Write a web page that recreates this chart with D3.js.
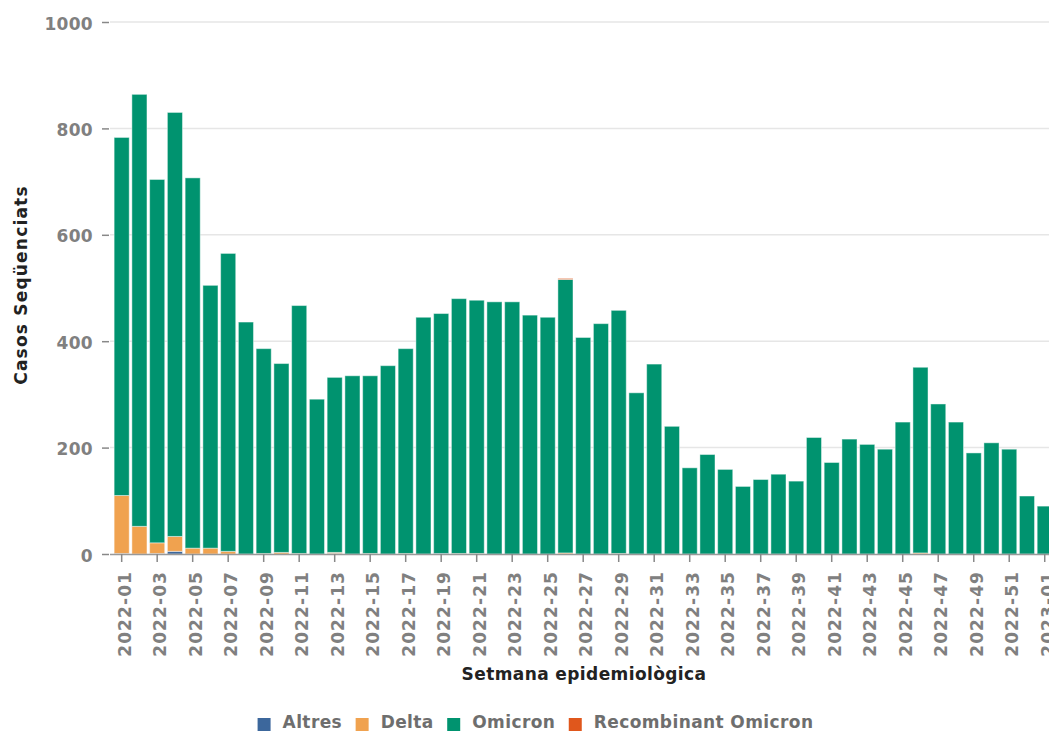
<!DOCTYPE html>
<html>
<head>
<meta charset="utf-8">
<script src="https://d3js.org/d3.v7.min.js"></script>
<style>
  body { margin: 0; overflow: hidden; background: #fff; }
</style>
</head>
<body>
<div id="chart"></div>
<script>
// setmanes 2022-01 .. 2022-52 i 2023-01
const weeks = d3.range(1, 53).map(w => `2022-${String(w).padStart(2, "0")}`).concat(["2023-01"]);

const altres = [1,0,1,5,0,0,0,0,0,0,0,0,1,0,0,0,0,0,1,0,0,0,0,0,0,0,0,0,0,0,0,0,0,0,0,0,0,0,0,0,0,0,0,0,0,0,0,0,0,0,0,0,0];
const delta = [109,52,20,28,11,11,5,0,1,3,1,0,2,0,1,0,1,0,0,1,1,0,0,0,0,2,0,0,1,0,0,0,0,0,0,0,0,0,0,0,0,0,0,0,0,2,0,0,0,0,0,0,0];
const omicron = [673,812,683,797,696,494,560,436,385,355,466,291,329,335,334,354,385,445,451,479,476,474,474,449,445,514,407,433,457,303,357,240,162,187,159,127,140,150,137,219,172,216,206,197,248,349,282,248,190,209,197,109,90];
const recombinant = [0,0,0,0,0,0,0,0,0,0,0,0,0,0,0,0,0,0,0,0,0,0,0,0,0,2,0,0,0,0,0,0,0,0,0,0,0,0,0,0,0,0,0,0,0,0,0,0,0,0,0,0,0];

const variants = ["Altres", "Delta", "Omicron", "Recombinant Omicron"];
const colors = ["#3c679c", "#f0a24f", "#00936f", "#e0571c"];
const yTicks = [0, 200, 400, 600, 800, 1000];

const rows = weeks.map((w, i) => ({
  week: w,
  "Altres": altres[i],
  "Delta": delta[i],
  "Omicron": omicron[i],
  "Recombinant Omicron": recombinant[i]
}));

const width = 1049, height = 733;
const plotLeft = 112.8, plotRight = 1053.6, plotTop = 22, plotBottom = 554;
const font = "'DejaVu Sans', sans-serif";

const svg = d3.create("svg")
    .attr("width", width)
    .attr("height", height)
    .attr("font-family", font)
    .attr("font-weight", "bold");

const x = d3.scaleBand()
    .domain(weeks)
    .range([plotLeft, plotRight])
    .paddingInner(0.15)
    .paddingOuter(0.075);

const y = d3.scaleLinear()
    .domain([0, 1000])
    .range([plotBottom, plotTop]);

const color = d3.scaleOrdinal().domain(variants).range(colors);

// graella
svg.append("g")
  .selectAll("line")
  .data(yTicks.filter(d => d > 0))
  .join("line")
    .attr("x1", 110).attr("x2", width)
    .attr("y1", d => y(d)).attr("y2", d => y(d))
    .attr("stroke", "#e6e6e6")
    .attr("stroke-width", 1.5);

// eix y
const yAxis = svg.append("g")
    .attr("transform", `translate(109,0)`)
    .call(d3.axisLeft(y).tickValues(yTicks).tickFormat(d3.format("d")).tickSize(7).tickPadding(9));
yAxis.select(".domain").remove();
yAxis.selectAll(".tick line").attr("stroke", "#888").attr("stroke-width", 1.5);
yAxis.selectAll(".tick text")
    .attr("fill", "#808080")
    .attr("font-family", font)
    .attr("font-weight", "bold")
    .attr("font-size", 17)
    .attr("letter-spacing", 0.3)
    .attr("dy", "0.42em");

// barres apilades
const series = d3.stack().keys(variants)(rows);

svg.append("g")
  .selectAll("g")
  .data(series)
  .join("g")
    .attr("fill", d => color(d.key))
  .selectAll("rect")
  .data(d => d.filter(s => s[1] - s[0] > 0))
  .join("rect")
    .attr("x", d => x(d.data.week))
    .attr("width", x.bandwidth())
    .attr("y", d => y(d[1]))
    .attr("height", d => y(d[0]) - y(d[1]))
    .attr("stroke", "#fff")
    .attr("stroke-opacity", 0.45)
    .attr("stroke-width", 1);

// eix x
const xAxis = svg.append("g")
    .attr("transform", `translate(0,${plotBottom})`)
    .call(d3.axisBottom(x).tickValues(weeks.filter((d, i) => i % 2 === 0)).tickSize(8).tickSizeOuter(0));
xAxis.select(".domain")
    .attr("d", `M110,0.5H${width}`)
    .attr("stroke", "#999")
    .attr("stroke-width", 1.5);
xAxis.selectAll(".tick line").attr("stroke", "#888").attr("stroke-width", 1.5);
xAxis.selectAll(".tick text")
    .attr("fill", "#808080")
    .attr("font-family", font)
    .attr("font-weight", "bold")
    .attr("font-size", 17)
    .attr("letter-spacing", 1.1)
    .attr("text-anchor", "end")
    .attr("transform", "translate(0,17) rotate(-90)")
    .attr("x", 0)
    .attr("y", 0)
    .attr("dy", "0.52em");

// títols d'eix
svg.append("text")
    .attr("x", (462 + 706) / 2)
    .attr("y", 680)
    .attr("text-anchor", "middle")
    .attr("font-size", 17)
    .attr("letter-spacing", 0.4)
    .attr("fill", "#222")
    .text("Setmana epidemiològica");

svg.append("text")
    .attr("transform", "translate(27,285) rotate(-90)")
    .attr("text-anchor", "middle")
    .attr("font-size", 17)
    .attr("letter-spacing", 1.2)
    .attr("fill", "#222")
    .text("Casos Seqüenciats");

// llegenda
const legend = svg.append("g").attr("transform", "translate(0,728)");
const items = legend.selectAll("g")
  .data(variants)
  .join("g");
items.append("rect")
    .attr("y", -10)
    .attr("width", 13)
    .attr("height", 13)
    .attr("fill", d => color(d));
items.append("text")
    .attr("x", 25)
    .attr("font-size", 17)
    .attr("letter-spacing", 0.4)
    .attr("fill", "#6e6e6e")
    .text(d => d);

document.getElementById("chart").appendChild(svg.node());

// posicions de la llegenda un cop mesurats els textos
const widths = [];
items.each(function() {
  widths.push(25 + this.querySelector("text").getComputedTextLength());
});
const gap = 13.5;
const total = d3.sum(widths) + gap * (widths.length - 1);
let offset = 535.5 - total / 2;
items.attr("transform", (d, i) => {
  const t = `translate(${offset},0)`;
  offset += widths[i] + gap;
  return t;
});
</script>
</body>
</html>
